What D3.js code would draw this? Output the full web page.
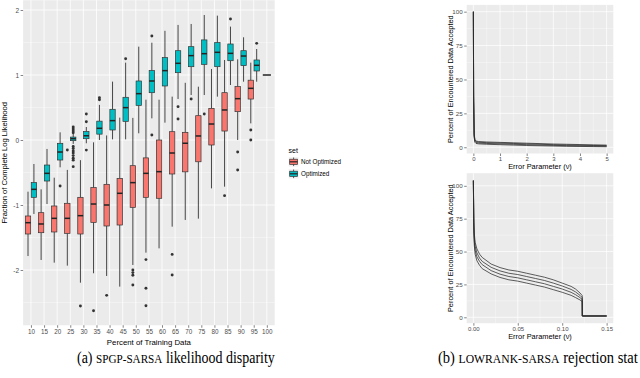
<!DOCTYPE html>
<html><head><meta charset="utf-8">
<script src="https://cdn.jsdelivr.net/npm/d3@7"></script>
<style>body{margin:0;background:#fff}svg{display:block}</style>
</head><body>
<svg id="c" width="640" height="378"></svg>
<script>
// ---------------- DATA ----------------
const categories = ["10","15","20","25","30","35","40","45","50","55","60","65","70","75","80","85","90","95","100"];
const seriesNames = ["Not Optimized","Optimized"];
const seriesColors = ["#F8766D","#00BFC4"];
// [lowerWhisker, q1, median, q3, upperWhisker]
const notOptimizedStats = [
  [-1.785,-1.446,-1.272,-1.169,-0.795],
  [-1.846,-1.426,-1.292,-1.118,-0.759],
  [-1.887,-1.415,-1.205,-1.015,-0.58],
  [-1.933,-1.436,-1.205,-0.974,-0.46],
  [-2.195,-1.446,-1.164,-0.882,-0.31],
  [-2.05,-1.267,-0.985,-0.733,-0.036],
  [-2.092,-1.323,-1.0,-0.682,0.07],
  [-2.256,-1.308,-0.82,-0.59,0.344],
  [-1.923,-1.036,-0.656,-0.395,0.34],
  [-1.733,-0.882,-0.513,-0.275,0.62],
  [-1.667,-0.897,-0.487,0.0,0.62],
  [-1.333,-0.523,-0.2,0.128,0.667],
  [-1.23,-0.49,-0.05,0.118,0.88],
  [-1.21,-0.335,0.062,0.374,0.82],
  [-0.744,-0.077,0.246,0.487,1.092],
  [-0.718,0.138,0.462,0.728,1.231],
  [0.0,0.436,0.636,0.821,1.241],
  [0.256,0.63,0.795,0.92,1.19],
  null
];
const notOptimizedOutliers = [
  [],[],[],[-0.154],[-2.554],[-2.626],[-2.39],[],[-2.0,-2.04,-2.08,-2.23],
  [-1.84,-2.28,-2.55],[],[-1.76,-2.077],[],[],[],[-0.856],[-0.185,-0.462],[0.154,0.0],[]
];
const optimizedStats = [
  [-1.138,-0.882,-0.759,-0.656,-0.369],
  [-0.985,-0.631,-0.513,-0.385,-0.138],
  [-0.42,-0.308,-0.185,-0.051,0.118],
  [-0.06,-0.01,0.02,0.045,0.1],
  [-0.05,0.02,0.065,0.13,0.2],
  [0.0,0.09,0.18,0.29,0.54],
  [0.01,0.154,0.298,0.472,0.898],
  [0.01,0.287,0.498,0.657,1.19],
  [0.103,0.533,0.713,0.908,1.436],
  [0.333,0.728,0.908,1.067,1.497],
  [0.267,0.831,1.067,1.267,1.68],
  [0.631,1.036,1.18,1.374,1.77],
  [0.692,1.128,1.298,1.436,1.785],
  [0.692,1.164,1.328,1.54,1.923],
  [0.667,1.128,1.349,1.498,1.913],
  [0.846,1.22,1.333,1.477,1.744],
  [0.897,1.144,1.292,1.374,1.58],
  [0.897,1.062,1.149,1.231,1.40],
  [1.0,1.0,1.0,1.0,1.0]
];
const optimizedOutliers = [
  [],[],[-0.708],
  [0.2,0.17,0.14,0.11,-0.1,-0.13,-0.17,-0.2,-0.24,-0.28,-0.31,-0.41],
  [0.40,0.28,-0.155],[0.65,0.62],[],[1.25],[],[1.6,0.077],[],[0.513,0.323],
  [0.631],[0.40],[],[1.862],[],[1.487],[]
];
const leftYTicks = [-2,-1,0,1,2];

// top right panel: error parameter 0..5
const topErrorParam = [0, 0.01, 0.03, 0.06, 0.1, 0.2, 0.5, 1, 1.5, 2, 2.5, 3, 3.5, 4, 4.5, 5];
const topAccepted1 = [100, 40, 10, 5.5, 4.6, 4.2, 3.9, 3.6, 3.3, 3.0, 2.7, 2.4, 2.2, 2.0, 1.8, 1.6];
const topAccepted2 = [100, 38, 9, 5.0, 4.0, 3.7, 3.4, 3.1, 2.8, 2.5, 2.2, 1.9, 1.7, 1.5, 1.3, 1.2];
const topAccepted3 = [100, 36, 8, 4.3, 3.4, 3.1, 2.8, 2.5, 2.2, 1.9, 1.6, 1.4, 1.2, 1.0, 0.9, 0.8];
const topAccepted4 = [100, 34, 7, 3.6, 2.8, 2.5, 2.2, 1.9, 1.6, 1.3, 1.1, 0.9, 0.7, 0.6, 0.5, 0.4];
const topXTicks = [0,1,2,3,4,5];

// bottom right panel: error parameter 0..0.15
const botErrorParam = [0, 0.0005, 0.001, 0.002, 0.004, 0.007, 0.01, 0.02, 0.03, 0.04, 0.05, 0.06, 0.07, 0.08, 0.09, 0.10, 0.11, 0.115, 0.12, 0.1225, 0.1226, 0.15];
const botAccepted1 = [104, 75, 64, 57, 52, 48, 45.5, 40.5, 37.8, 36, 35, 33.5, 32, 30.5, 28.5, 26, 23.5, 21.5, 18.5, 16.5, 1, 1];
const botAccepted2 = [104, 72, 61, 54, 49, 45, 42.5, 38, 35.3, 33.5, 32.5, 31, 29.5, 28, 26, 23.8, 21.2, 19.3, 16.7, 15, 1, 1];
const botAccepted3 = [104, 69, 58, 51, 46, 42.5, 40, 35.5, 32.8, 31, 30, 28.5, 27, 25.5, 23.5, 21.5, 19, 17.2, 15, 13.5, 1, 1];
const botAccepted4 = [104, 66, 55, 48, 43, 39.5, 37, 33, 30.3, 28.5, 27.5, 26, 24.5, 23, 21, 19, 16.7, 15, 13.2, 12, 1, 1];
const botXTicks = [0, 0.05, 0.10, 0.15];
const rightYTicks = [0,25,50,75,100];

// ---------------- DRAW ----------------
const svg = d3.select("#c");
const SANS = "'Liberation Sans', Arial, Helvetica, sans-serif";
const TICKCOL = "#4D4D4D";

function styleAxis(g, fs) {
  g.select(".domain").remove();
  g.selectAll(".tick line").attr("stroke","#333333").attr("stroke-width",0.6);
  g.selectAll(".tick text").attr("fill",TICKCOL).style("font-family",SANS).style("font-size",fs+"px");
}

// ---- Left boxplot panel ----
const L = {x0:23.1, x1:274.7, y0:0.25, y1:325.25};
svg.append("rect").attr("x",L.x0).attr("y",L.y0).attr("width",L.x1-L.x0).attr("height",L.y1-L.y0).attr("fill","#EBEBEB");
const xL = d3.scalePoint().domain(categories).range([L.x0,L.x1]).padding(0.6);
const yL = d3.scaleLinear().domain([-2.85,2.15]).range([L.y1,L.y0]);
const gridL = svg.append("g");
d3.range(-2.5,2.1,1).forEach(v=>{
  gridL.append("line").attr("x1",L.x0).attr("x2",L.x1).attr("y1",yL(v)).attr("y2",yL(v)).attr("stroke","#fff").attr("stroke-width",0.35);
});
leftYTicks.forEach(v=>{
  gridL.append("line").attr("x1",L.x0).attr("x2",L.x1).attr("y1",yL(v)).attr("y2",yL(v)).attr("stroke","#fff").attr("stroke-width",0.8);
});
categories.forEach(c=>{
  gridL.append("line").attr("x1",xL(c)).attr("x2",xL(c)).attr("y1",L.y0).attr("y2",L.y1).attr("stroke","#fff").attr("stroke-width",0.8);
});

const step = xL.step();
const groupsData = [[notOptimizedStats,notOptimizedOutliers],[optimizedStats,optimizedOutliers]];
const boxes = svg.append("g");
groupsData.forEach(([stats,outs],gi)=>{
  categories.forEach((c,i)=>{
    const s = stats[i]; if(!s) return;
    const other = groupsData[1-gi][0][i];
    const cx = other ? xL(c) + (gi===0 ? -0.225 : 0.225)*step : xL(c);
    const w = other ? 0.41*step : 0.62*step;
    const g = boxes.append("g");
    g.append("line").attr("x1",cx).attr("x2",cx).attr("y1",yL(s[0])).attr("y2",yL(s[1])).attr("stroke","#333").attr("stroke-width",0.9);
    g.append("line").attr("x1",cx).attr("x2",cx).attr("y1",yL(s[3])).attr("y2",yL(s[4])).attr("stroke","#333").attr("stroke-width",0.9);
    g.append("rect").attr("x",cx-w/2).attr("width",w).attr("y",yL(s[3])).attr("height",Math.max(0,yL(s[1])-yL(s[3])))
      .attr("fill",seriesColors[gi]).attr("stroke","#333").attr("stroke-width",0.7);
    g.append("line").attr("x1",cx-w/2).attr("x2",cx+w/2).attr("y1",yL(s[2])).attr("y2",yL(s[2])).attr("stroke","#222").attr("stroke-width",1.5);
    outs[i].forEach(o=>{
      g.append("circle").attr("cx",cx).attr("cy",yL(o)).attr("r",1.45).attr("fill","#333");
    });
  });
});

const axLy = svg.append("g").attr("transform",`translate(${L.x0},0)`)
  .call(d3.axisLeft(yL).tickValues(leftYTicks).tickFormat(d=>String(d)).tickSize(2.5).tickPadding(1.5));
styleAxis(axLy,6.5);
const axLx = svg.append("g").attr("transform",`translate(0,${L.y1})`)
  .call(d3.axisBottom(xL).tickSize(2.5).tickPadding(1.5));
styleAxis(axLx,6.3);
svg.append("text").attr("x",(L.x0+L.x1)/2).attr("y",345).attr("text-anchor","middle")
  .style("font-family",SANS).style("font-size","7.8px").attr("fill","#000").text("Percent of Training Data");
svg.append("text").attr("transform",`translate(7,${(L.y0+L.y1)/2}) rotate(-90)`).attr("text-anchor","middle")
  .style("font-family",SANS).style("font-size","7.6px").attr("fill","#000").text("Fraction of Complete Log Likelihood");

// legend
const lg = svg.append("g");
lg.append("text").attr("x",288.5).attr("y",152.5).style("font-family",SANS).style("font-size","7px").text("set");
seriesNames.forEach((n,i)=>{
  const ky = 157 + i*12, kx = 288.7, kw = 9.8, kh = 9.6;
  lg.append("rect").attr("x",kx).attr("y",ky).attr("width",kw).attr("height",kh).attr("fill","#F2F2F2");
  lg.append("line").attr("x1",kx+kw/2).attr("x2",kx+kw/2).attr("y1",ky+0.5).attr("y2",ky+kh-0.5).attr("stroke","#333").attr("stroke-width",0.8);
  lg.append("rect").attr("x",kx+1).attr("y",ky+2.2).attr("width",kw-2).attr("height",kh-4.4).attr("fill",seriesColors[i]).attr("stroke","#333").attr("stroke-width",0.7);
  lg.append("line").attr("x1",kx+1).attr("x2",kx+kw-1).attr("y1",ky+kh/2).attr("y2",ky+kh/2).attr("stroke","#222").attr("stroke-width",1.2);
  lg.append("text").attr("x",301).attr("y",ky+kh/2+2.2).style("font-family",SANS).style("font-size","6.3px").text(n);
});

// ---- Right panels ----
function rightPanel(cfg){
  const {x0,x1,y0,y1,xDom,yDom,xTicks,xMinor,yMinor,fmt,xs,lines,titleY} = cfg;
  svg.append("rect").attr("x",x0).attr("y",y0).attr("width",x1-x0).attr("height",y1-y0).attr("fill","#EBEBEB");
  const x = d3.scaleLinear().domain(xDom).range([x0,x1]);
  const y = d3.scaleLinear().domain(yDom).range([y1,y0]);
  const g = svg.append("g");
  xMinor.forEach(v=>g.append("line").attr("x1",x(v)).attr("x2",x(v)).attr("y1",y0).attr("y2",y1).attr("stroke","#fff").attr("stroke-width",0.35));
  yMinor.forEach(v=>g.append("line").attr("x1",x0).attr("x2",x1).attr("y1",y(v)).attr("y2",y(v)).attr("stroke","#fff").attr("stroke-width",0.35));
  xTicks.forEach(v=>g.append("line").attr("x1",x(v)).attr("x2",x(v)).attr("y1",y0).attr("y2",y1).attr("stroke","#fff").attr("stroke-width",0.75));
  rightYTicks.forEach(v=>g.append("line").attr("x1",x0).attr("x2",x1).attr("y1",y(v)).attr("y2",y(v)).attr("stroke","#fff").attr("stroke-width",0.75));
  const line = d3.line().x((d,i)=>x(xs[i])).y(d=>y(d));
  lines.forEach(ln=>{
    svg.append("path").attr("d",line(ln)).attr("fill","none").attr("stroke","#2a2a2a").attr("stroke-width",0.75);
  });
  const ay = svg.append("g").attr("transform",`translate(${x0},0)`)
    .call(d3.axisLeft(y).tickValues(rightYTicks).tickSize(2.5).tickPadding(1.5));
  styleAxis(ay,6.2);
  const ax = svg.append("g").attr("transform",`translate(0,${y1})`)
    .call(d3.axisBottom(x).tickValues(xTicks).tickFormat(fmt).tickSize(2.5).tickPadding(1.2));
  styleAxis(ax,6);
  svg.append("text").attr("x",(x0+x1)/2).attr("y",titleY).attr("text-anchor","middle")
    .style("font-family",SANS).style("font-size","7.4px").text("Error Parameter (ν)");
  svg.append("text").attr("transform",`translate(452.5,${(y0+y1)/2}) rotate(-90)`).attr("text-anchor","middle")
    .style("font-family",SANS).style("font-size","7.4px").text("Percent of Encountered Data Accepted");
}
rightPanel({x0:466.7,x1:613.3,y0:4.9,y1:153.5,xDom:[-0.25,5.25],yDom:[-4.6,105],
  xTicks:topXTicks,xMinor:[0.5,1.5,2.5,3.5,4.5],yMinor:[12.5,37.5,62.5,87.5],fmt:d=>String(d),
  xs:topErrorParam,lines:[topAccepted1,topAccepted2,topAccepted3,topAccepted4],titleY:168.6});
rightPanel({x0:466.7,x1:613.3,y0:173.2,y1:323.2,xDom:[-0.0075,0.1575],yDom:[-4.5,109.6],
  xTicks:botXTicks,xMinor:[0.025,0.075,0.125],yMinor:[12.5,37.5,62.5,87.5],fmt:d3.format(".2f"),
  xs:botErrorParam,lines:[botAccepted1,botAccepted2,botAccepted3,botAccepted4],titleY:338.6});

// ---- captions (horizontally condensed to match the squeezed source) ----
const SERIF = "'Liberation Serif','Times New Roman',serif";
function caption(x,len,prefix,sc,rest){
  const g = svg.append("g");
  const t = g.append("text").attr("x",0).attr("y",0).style("font-family",SERIF).style("font-size","16.5px").attr("fill","#000");
  t.append("tspan").text(prefix);
  t.append("tspan").style("font-size","13.2px").text(sc);
  t.append("tspan").text(rest);
  const w = t.node().getComputedTextLength();
  g.attr("transform",`translate(${x},363) scale(${len/w},1)`);
}
caption(77,198,"(a) ","SPGP-SARSA"," likelihood disparity");
caption(438,200,"(b) ","LOWRANK-SARSA"," rejection stat");
</script>
</body></html>
